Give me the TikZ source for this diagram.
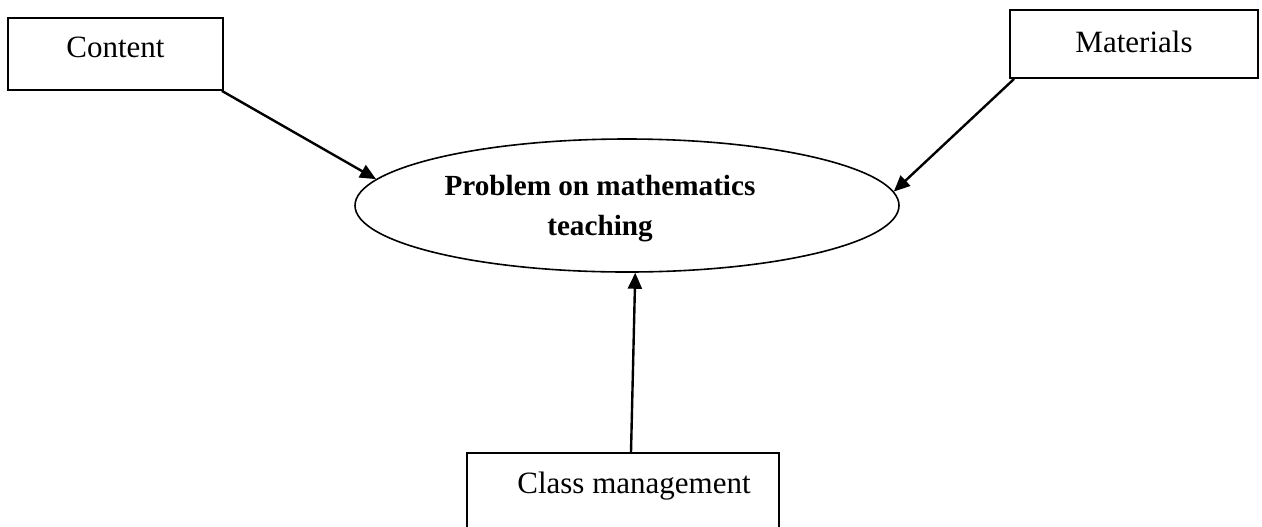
\documentclass[tikz,border=0pt]{standalone}
\usepackage{fontspec}
\setmainfont{Liberation Serif}
\usetikzlibrary{arrows.meta,shapes.geometric}
\tikzset{
  box/.style={draw, line width=0.9pt, rectangle, inner sep=0pt},
  boxtext/.style={font=\fontsize{15.5}{20}\selectfont, text height=10.5pt, text depth=0pt, inner sep=0pt},
  oval/.style={draw, line width=0.8pt, ellipse, inner sep=0pt, minimum width=272pt, minimum height=66.5pt},
  ovaltext/.style={font=\fontsize{14.6}{20}\selectfont\bfseries, align=center, inner sep=0pt},
  arr/.style={line width=1.2pt, -{Triangle[length=8pt,width=7pt]}}
}
\begin{document}
\begin{tikzpicture}[x=0.5pt,y=-0.5pt]
\useasboundingbox (0,0) rectangle (1262,526);
\clip (0,0) rectangle (1262,526);
\node[box, minimum width=107.5pt, minimum height=36pt,
  label={[boxtext, yshift=3.5pt]center:Content}] (content) at (115.5,54) {};
\node[box, minimum width=124pt, minimum height=34pt,
  label={[boxtext, yshift=1.25pt]center:Materials}] (mat) at (1134,44) {};
\node[box, minimum width=156pt, minimum height=38.5pt,
  label={[boxtext, xshift=5.5pt, yshift=4.5pt]center:Class management}] (cls) at (623,491.5) {};
\node[oval, label={[ovaltext, xshift=-13.5pt, yshift=-1.5pt]center:Problem on mathematics\\teaching}] (prob) at (627,205.5) {};
\draw[arr] ([xshift=-1pt]content.south east) -- (prob.174.7);
\draw[arr] ([xshift=2.5pt]mat.south west) -- (prob.3.8);
\draw[arr] ([xshift=4pt]cls.north) -- (prob.277);
\end{tikzpicture}
\end{document}
